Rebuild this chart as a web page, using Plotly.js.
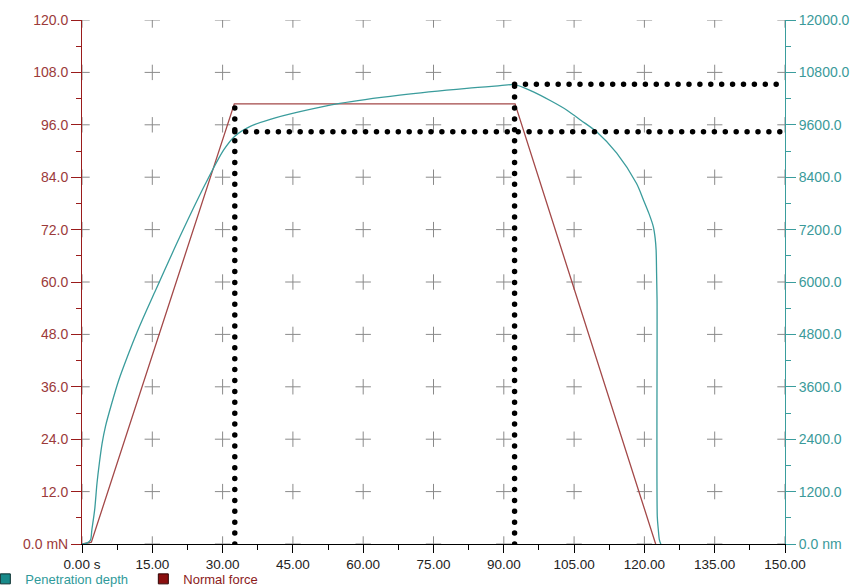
<!DOCTYPE html>
<html><head><meta charset="utf-8">
<script src="https://cdn.plot.ly/plotly-3.0.1.min.js"></script>
<style>
html,body{margin:0;padding:0;background:#fff;}
#chart{width:854px;height:588px;}
.scatterlayer .trace path.js-line{stroke-linecap:round;}
</style></head><body><div id="chart"></div>
<script>
// Penetration depth (nm) vs time (s)
const timeDepth = [0, 1.0, 1.8, 2.1, 2.7, 3.2, 3.7, 4.3, 5.0, 6.4, 7.8, 10.0, 11.7, 13.8, 15.4, 20.9, 26.2, 30.2, 32.6, 35.8, 40.0, 46.5, 55.0, 67.8, 82.1, 89.2, 92.3, 96.2, 100.0, 103.4, 106.5, 109.8, 114.1, 118.3, 119.8, 121.0, 121.9, 122.3, 122.5, 122.6, 122.7, 122.75, 122.95, 123.2, 123.5];
const depthNm   = [0, 20, 90, 320, 780, 1390, 1850, 2310, 2690, 3240, 3740, 4380, 4840, 5360, 5740, 7040, 8220, 9020, 9340, 9560, 9720, 9900, 10090, 10280, 10435, 10495, 10520, 10360, 10150, 9940, 9700, 9440, 8950, 8260, 7880, 7560, 7270, 7000, 6730, 6200, 5600, 625, 350, 92, 0];
// Normal force (mN) vs time (s)
const timeForce = [0, 1.0, 2.0, 32.5, 92.4, 122.4];
const forceMN   = [0, 0.2, 0.4, 100.8, 100.8, 0];
// Dotted guides
const guideTime  = [32.6, 92.3];
const guideTop   = [10080, 10530];
const guideDepth = [9440, 10530];
// Ticks
const xTicks = [0, 15, 30, 45, 60, 75, 90, 105, 120, 135, 150];
const xTickText = ['0.00 s', '15.00', '30.00', '45.00', '60.00', '75.00', '90.00', '105.00', '120.00', '135.00', '150.00'];
const leftTicks = [0, 12, 24, 36, 48, 60, 72, 84, 96, 108, 120];
const leftTickText = ['0.0 mN', '12.0', '24.0', '36.0', '48.0', '60.0', '72.0', '84.0', '96.0', '108.0', '120.0'];
const rightTicks = [0, 1200, 2400, 3600, 4800, 6000, 7200, 8400, 9600, 10800, 12000];
const rightTickText = ['0.0 nm', '1200.0', '2400.0', '3600.0', '4800.0', '6000.0', '7200.0', '8400.0', '9600.0', '10800.0', '12000.0'];

const TEAL = '#3a9c9c', RED = '#a34848';

// plus-shaped grid at tick intersections
const gx = [], gy = [];
xTicks.forEach(x => leftTicks.forEach(y => { gx.push(x); gy.push(y); }));

const traces = [
  {x: gx, y: gy, mode: 'markers', hoverinfo: 'skip', showlegend: false,
   marker: {symbol: 'cross-thin', size: 11, line: {color: '#8a8a8a', width: 1}}},
  {x: timeForce, y: forceMN, mode: 'lines', showlegend: false,
   line: {color: RED, width: 1.3}},
  {x: timeDepth, y: depthNm, yaxis: 'y2', mode: 'lines', showlegend: false,
   line: {color: TEAL, width: 1.3, shape: 'spline', smoothing: 0.8}}
];
for (let i = 0; i < guideTime.length; i++) {
  traces.push({x: [guideTime[i], guideTime[i]], y: [0, guideTop[i]], yaxis: 'y2', mode: 'lines',
    showlegend: false, hoverinfo: 'skip', line: {color: '#000', width: 5.5, dash: '0px,10.9px'}});
  traces.push({x: [guideTime[i], 150], y: [guideDepth[i], guideDepth[i]], yaxis: 'y2', mode: 'lines',
    showlegend: false, hoverinfo: 'skip', line: {color: '#000', width: 5.5, dash: '0px,10.9px'}});
}
traces.push({x: [null], y: [null], mode: 'markers', name: '<span style="color:#2f9a9a">Penetration depth</span>',
  marker: {symbol: 'square', size: 10, color: '#178a8a', line: {color: '#0a3030', width: 1}}});
traces.push({x: [null], y: [null], mode: 'markers', name: '<span style="color:#8b1a1a">Normal force</span>',
  marker: {symbol: 'square', size: 10, color: '#8b0f0f', line: {color: '#300505', width: 1}}});

const layout = {
  width: 854, height: 588,
  margin: {l: 82, r: 69, t: 20, b: 44, pad: 0, autoexpand: false},
  paper_bgcolor: '#fff', plot_bgcolor: '#fff',
  font: {family: 'Liberation Sans, Arial, sans-serif', size: 14, color: '#333'},
  showlegend: true,
  legend: {orientation: 'h', x: -0.1375, xanchor: 'left', y: -0.038, yanchor: 'top',
    font: {size: 13}, bgcolor: 'rgba(0,0,0,0)', entrywidth: 113, entrywidthmode: 'pixels'},
  xaxis: {range: [0, 150], automargin: false, showgrid: false, zeroline: false, showline: true, linecolor: '#000', linewidth: 1,
    tickmode: 'array', tickvals: xTicks, ticktext: xTickText, ticks: 'outside', ticklen: 8, tickcolor: '#000',
    tickfont: {color: '#222', size: 13.5},
    minor: {dtick: 7.5, ticks: 'outside', ticklen: 5, tickcolor: '#000', showgrid: false}},
  yaxis: {range: [0, 120], automargin: false, showgrid: false, zeroline: false, showline: true, linecolor: '#9a1c1c', linewidth: 1,
    tickmode: 'array', tickvals: leftTicks, ticktext: leftTickText, ticks: 'outside', ticklen: 10, tickcolor: '#9a1c1c',
    tickfont: {color: '#9b3a3a', size: 14},
    minor: {dtick: 6, ticks: 'outside', ticklen: 5, tickcolor: '#9a1c1c', showgrid: false}},
  yaxis2: {range: [0, 12000], automargin: false, overlaying: 'y', side: 'right', showgrid: false, zeroline: false, showline: true,
    linecolor: '#3a9d9d', linewidth: 1, tickmode: 'array', tickvals: rightTicks, ticktext: rightTickText,
    ticks: 'outside', ticklen: 10, tickcolor: '#3a9d9d', tickfont: {color: '#3a9a9a', size: 14},
    minor: {dtick: 600, ticks: 'outside', ticklen: 5, tickcolor: '#3a9d9d', showgrid: false}}
};

Plotly.newPlot('chart', traces, layout, {staticPlot: true, displayModeBar: false});
</script></body></html>
